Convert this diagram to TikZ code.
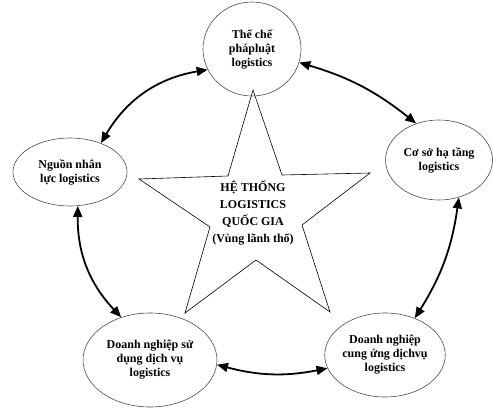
\documentclass[tikz,border=0pt]{standalone}
\usepackage{fontspec}
\setmainfont{Liberation Serif}
\usetikzlibrary{shapes.geometric,arrows.meta}
\begin{document}
\begin{tikzpicture}[x=1pt,y=1pt,
  ell/.style={ellipse,draw=black!70,line width=0.6pt,inner sep=0pt,align=center,
    font=\fontsize{12}{14}\selectfont\bfseries},
  conn/.style={line width=1.8pt,{Triangle[length=11pt,width=9pt]}-{Triangle[length=11pt,width=9pt]}},
  starline/.style={draw=black,line width=0.6pt,line join=miter}]
\useasboundingbox (0,0) rectangle (493,408);
% star
\coordinate (s1) at (253,318);
\coordinate (s2) at (282,233);
\coordinate (s3) at (370,235);
\coordinate (s4) at (302,183);
\coordinate (s5) at (330,96);
\coordinate (s6) at (256,148);
\coordinate (s7) at (185,95);
\coordinate (s8) at (210,181);
\coordinate (s9) at (139,229);
\coordinate (s10) at (228,232);
\draw[starline] (s1)--(s2)--(s3)--(s4)--(s5)--(s6)--(s7)--(s8)--(s9)--(s10)--cycle;
\node[align=center,font=\fontsize{12}{17}\selectfont\bfseries] (center) at (253,195)
  {HỆ THỐNG\\LOGISTICS\\QUỐC GIA\\(Vùng lãnh thổ)};
% ellipses
\node[ell,minimum width=98pt,minimum height=94pt] (T) at (252,359) {Thể chế\\phápluật\\logistics};
\node[ell,minimum width=114pt,minimum height=68pt] (L) at (70,236) {Nguồn nhân\\lực logistics};
\node[ell,minimum width=107pt,minimum height=80pt] (R) at (439,248) {Cơ sở hạ tầng\\logistics};
\node[ell,minimum width=134pt,minimum height=94pt] (BL) at (150,48) {Doanh nghiệp sử\\dụng dịch vụ\\logistics};
\node[ell,minimum width=118pt,minimum height=84pt] (BR) at (385,53) {Doanh nghiệp\\cung ứng dịchvụ\\logistics};
% connectors
\draw[conn] (L.43) to[bend left=25] (T.205);
\draw[conn] (T.344) to[bend left=11] (R.122);
\draw[conn] (R.298) to[bend left=12] (BR.51);
\draw[conn] (BR.193) to[bend left=13] (BL.356);
\draw[conn] (BL.124) to[bend left=22] (L.283);
\end{tikzpicture}
\end{document}
